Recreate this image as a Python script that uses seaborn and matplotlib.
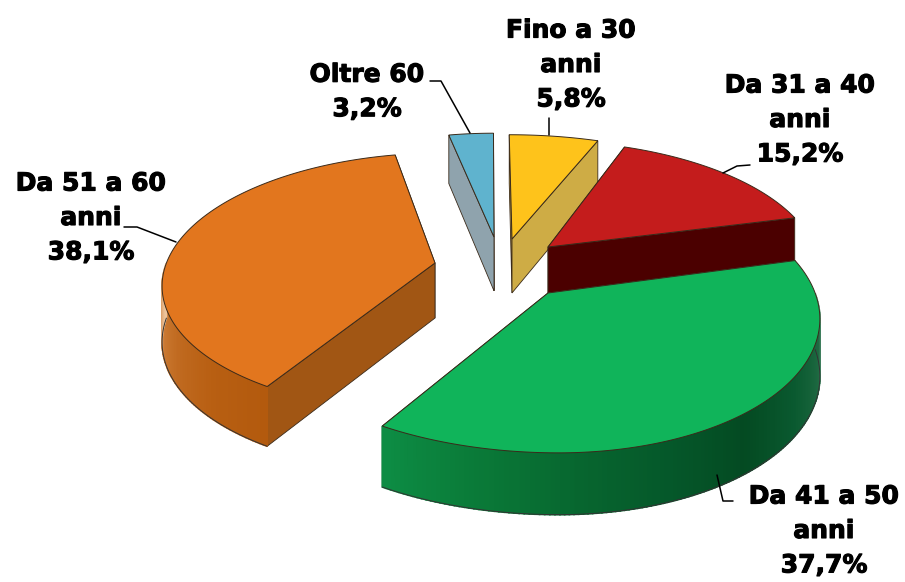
import numpy as np
import seaborn as sns
import matplotlib.pyplot as plt
import matplotlib.patheffects as pe

# Valori (senso orario da ore 12)
labels = ['Fino a 30\nanni\n5,8%', 'Da 31 a 40\nanni\n15,2%', 'Da 41 a 50\nanni\n37,7%',
          'Da 51 a 60\nanni\n38,1%', 'Oltre 60\n3,2%']
values = [5.8, 15.2, 37.7, 38.1, 3.2]

top_colors = ['#FEC31B', '#C41C1C', '#10B45A', '#E2761E', '#5FB3CE']
face_colors = ['#CEAC45', '#4B0000', '#0B7A3C', '#A15614', '#8FA3AD']
wall_colors = [
    ['#CEAC45', '#CEAC45'],
    ['#4B0000', '#4B0000'],
    ['#A8C4B4', '#1F6A42', '#0A5A30', '#044A22', '#05582A', '#07662F', '#0A7A38', '#0D8C44'],
    ['#B35A0E', '#B85F12', '#C06A20', '#CC7B35', '#EDC49C'],
    ['#8FA3AD', '#8FA3AD'],
]

# punta di ogni fetta in pixel (esplosione non uniforme) e raggio relativo dx/sx
apex = [(512, 239), (548, 247), (548, 293), (435, 263), (494, 237)]
radius_r = [1.1, 1.03, 0.98, 1.0, 1.0]
radius_l = [1.0, 1.0, 1.07, 1.02, 1.0]
draw_order = [4, 0, 1, 3, 2]

CX, CY = 490, 262
S, T, K = 263, 126, 0.148
DEPTH = 55

sns.set_theme(style='white')
plt.rcParams['font.family'] = ['DejaVu Sans']

fig, ax = plt.subplots(figsize=(9.05, 5.82), dpi=100)
ax.set_position([0, 0, 1, 1])
ax.set_xlim(0, 905)
ax.set_ylim(582, 0)
ax.axis('off')


def project(x, y):
    w = 1 + K * y
    return CX + S * x / w, CY - T * y / w


def unproject(px, py):
    p = CY - py
    y = p / (T - K * p)
    return (px - CX) * (1 + K * y) / S, y


def drop(y):
    return DEPTH * (1 - 0.1 * y)


edges = np.cumsum([0] + values) / sum(values) * 2 * np.pi

for i in draw_order:
    a0, a1 = edges[i], edges[i + 1]
    x0, y0 = unproject(*apex[i])
    ang = np.linspace(a0, a1, 160)
    sx = np.sin(ang)
    wx = x0 + np.where(sx > 0, radius_r[i], radius_l[i]) * sx
    wy = y0 + np.cos(ang)
    rx, ry = project(wx, wy)
    ax0, ay0 = apex[i]
    d0 = drop(y0)

    # facce radiali: prima quella col bordo piu' in alto
    faces = sorted([0, -1], key=lambda j: ry[j])
    for j in faces:
        d = drop(wy[j])
        ax.fill([ax0, rx[j], rx[j], ax0], [ay0, ry[j], ry[j] + d, ay0 + d0],
                color=face_colors[i], ec='#3a2a1a', lw=0.6, zorder=1)

    # parete esterna, solo la parte davanti
    vis = np.where((ang > np.pi / 2) & (ang < 3 * np.pi / 2))[0]
    if len(vis) > 1:
        pal = sns.blend_palette(wall_colors[i], len(vis) - 1)
        for n, (p, q) in enumerate(zip(vis[:-1], vis[1:])):
            ax.fill([rx[p], rx[q], rx[q], rx[p]],
                    [ry[p], ry[q], ry[q] + drop(wy[q]), ry[p] + drop(wy[p])],
                    color=pal[n], lw=1.2, zorder=1)
        bx, by = rx[vis], ry[vis] + drop(wy[vis])
        ax.plot(bx, by, color='#333333', lw=0.7, zorder=1)

    ax.fill(np.r_[ax0, rx], np.r_[ay0, ry], color=top_colors[i], ec='#3a2a1a', lw=0.7, zorder=1)

# linee guida
leaders = [
    ([549, 549], [118, 135]),
    ([723, 737, 750], [173, 166, 165]),
    ([717, 723, 733], [475, 501, 501]),
    ([124, 137, 176], [227, 227, 242]),
    ([430, 441, 470], [81, 81, 133]),
]
for xs, ys in leaders:
    ax.plot(xs, ys, color='black', lw=1.1, zorder=2)

# etichette
label_pos = [(571, 65), (800, 120), (824, 531), (91, 218), (367, 92)]
for txt, (lx, ly) in zip(labels, label_pos):
    ax.text(lx, ly, txt, ha='center', va='center', fontsize=18, fontweight='bold',
            color='black', linespacing=1.55, zorder=3,
            path_effects=[pe.withStroke(linewidth=0.8, foreground='black')])

fig.savefig('out.png', dpi=100, facecolor='white')
